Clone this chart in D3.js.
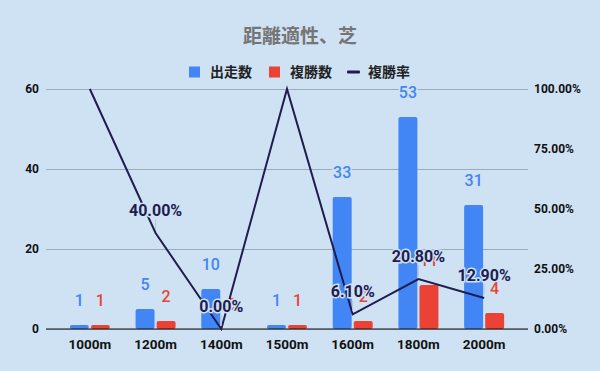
<!DOCTYPE html>
<html>
<head>
<meta charset="utf-8">
<script src="https://cdn.jsdelivr.net/npm/d3@7"></script>
<style>
  body { margin: 0; background: #cfe2f3; }
  text { font-family: Roboto, "Noto Sans CJK JP", sans-serif; }
</style>
</head>
<body>
<div id="chart"></div>
<script>
// chart data
var categories = ['1000m', '1200m', '1400m', '1500m', '1600m', '1800m', '2000m'];
var runs = [1, 5, 10, 1, 33, 53, 31];          // 出走数
var places = [1, 2, 0, 1, 2, 11, 4];          // 複勝数
var placeRate = [1.0, 0.40, 0.0, 1.0, 0.061, 0.208, 0.129];  // 複勝率
var leftTicks = [0, 20, 40, 60];
var rightTicks = [0, 0.25, 0.5, 0.75, 1];
var seriesNames = ['出走数', '複勝数', '複勝率'];

function drawChart(){

    var width = 600, height = 371;
    var left = 46, right = 528, top = 89, bottom = 329;
    var bg = '#cfe2f3', blue = '#4285f4', red = '#ea4335', navy = '#211c4f';

    var svg = d3.select('#chart')
        .append('svg')
        .attr('width', width)
        .attr('height', height);

    svg.append('rect')
        .attr('width', width)
        .attr('height', height)
        .attr('fill', bg);

    //scales
    var x = d3.scaleBand()
        .domain(categories)
        .range([57, 517]);

    var xSub = d3.scaleBand()
        .domain(['runs', 'places'])
        .range([-20, 20])
        .paddingInner(0.1);

    var y = d3.scaleLinear().domain([0, 60]).range([bottom, top]);
    var yR = d3.scaleLinear().domain([0, 1]).range([bottom, top]);

    //title
    svg.append('text')
        .attr('x', 300)
        .attr('y', 43)
        .attr('text-anchor', 'middle')
        .attr('font-size', 19)
        .attr('font-weight', 'bold')
        .attr('fill', '#757575')
        .text('距離適性、芝');

    //legend
    var legend = svg.append('g').attr('transform', 'translate(0,72)');
    var legendX = [189, 269, 347];
    var legendColors = [blue, red, navy];
    seriesNames.forEach(function(name, i){
        if (i < 2) {
            legend.append('rect')
                .attr('x', legendX[i]).attr('y', -5.5)
                .attr('width', 11).attr('height', 11)
                .attr('fill', legendColors[i]);
        } else {
            legend.append('rect')
                .attr('x', legendX[i]).attr('y', -1.5)
                .attr('width', 13).attr('height', 3)
                .attr('rx', 1)
                .attr('fill', legendColors[i]);
        }
        legend.append('text')
            .attr('x', legendX[i] + 21)
            .attr('y', 5)
            .attr('font-size', 14)
            .attr('font-weight', 'bold')
            .attr('fill', '#222')
            .text(name);
    });

    //left axis with gridlines
    var gLeft = svg.append('g')
        .attr('transform', 'translate(' + left + ',0)')
        .call(d3.axisLeft(y).tickValues(leftTicks).tickSize(-(right - left)).tickPadding(7));
    gLeft.select('.domain').remove();
    gLeft.selectAll('.tick line').attr('stroke', '#9babba');
    gLeft.selectAll('.tick text')
        .attr('font-size', 12).attr('font-weight', 'bold').attr('fill', '#111');

    //right axis
    var gRight = svg.append('g')
        .attr('transform', 'translate(' + right + ',0)')
        .call(d3.axisRight(yR).tickValues(rightTicks).tickSize(0).tickPadding(6)
            .tickFormat(d3.format('.2%')));
    gRight.select('.domain').remove();
    gRight.selectAll('.tick text')
        .attr('font-size', 12).attr('font-weight', 'bold').attr('fill', '#111');

    //bottom axis
    var gBottom = svg.append('g')
        .attr('transform', 'translate(0,' + bottom + ')')
        .call(d3.axisBottom(x).tickSize(0).tickPadding(10));
    gBottom.select('.domain').remove();
    gBottom.selectAll('.tick text')
        .attr('font-size', 13.5).attr('font-weight', 'bold').attr('fill', '#111');

    //bars
    var groups = svg.selectAll('.group')
        .data(categories)
        .enter()
        .append('g')
        .attr('class', 'group')
        .attr('transform', function(d){ return 'translate(' + (x(d) + x.bandwidth() / 2) + ',0)'; });

    var barData = function(d, i){
        return [{key: 'runs', v: runs[i], c: blue}, {key: 'places', v: places[i], c: red}];
    };

    groups.selectAll('rect')
        .data(barData)
        .enter()
        .append('rect')
        .attr('x', function(d){ return xSub(d.key); })
        .attr('y', function(d){ return y(d.v); })
        .attr('width', xSub.bandwidth())
        .attr('height', function(d){ return bottom - y(d.v); })
        .attr('rx', 2)
        .attr('fill', function(d){ return d.c; });

    //baseline
    svg.append('line')
        .attr('x1', left).attr('x2', right)
        .attr('y1', bottom).attr('y2', bottom)
        .attr('stroke', '#111').attr('stroke-width', 1.2);

    //bar value labels
    groups.selectAll('.val')
        .data(barData)
        .enter()
        .append('text')
        .attr('class', 'val')
        .attr('x', function(d){ return xSub(d.key) + xSub.bandwidth() / 2; })
        .attr('y', function(d){ return y(d.v) - 19; })
        .attr('text-anchor', 'middle')
        .attr('font-size', 16)
        .attr('font-weight', 500)
        .attr('fill', function(d){ return d.c; })
        .attr('stroke', bg)
        .attr('stroke-width', 3)
        .attr('paint-order', 'stroke')
        .text(function(d){ return d.v; });

    //rate line
    var line = d3.line()
        .x(function(d, i){ return x(categories[i]) + x.bandwidth() / 2; })
        .y(function(d){ return yR(d); });

    svg.append('path')
        .datum(placeRate)
        .attr('d', line)
        .attr('fill', 'none')
        .attr('stroke', navy)
        .attr('stroke-width', 2)
        .attr('stroke-linejoin', 'miter');

    //rate labels (those that fit inside the plot)
    var rateLabels = placeRate.map(function(v, i){ return {v: v, c: categories[i]}; })
        .filter(function(d){ return yR(d.v) - 22 > top; });

    svg.selectAll('.lead')
        .data(rateLabels)
        .enter()
        .append('line')
        .attr('class', 'lead')
        .attr('x1', function(d){ return x(d.c) + x.bandwidth() / 2; })
        .attr('x2', function(d){ return x(d.c) + x.bandwidth() / 2; })
        .attr('y1', function(d){ return yR(d.v) - 14; })
        .attr('y2', function(d){ return yR(d.v) - 3; })
        .attr('stroke', '#b8c4cf')
        .attr('stroke-width', 1);

    svg.selectAll('.rate')
        .data(rateLabels)
        .enter()
        .append('text')
        .attr('class', 'rate')
        .attr('x', function(d){ return x(d.c) + x.bandwidth() / 2; })
        .attr('y', function(d){ return yR(d.v) - 17; })
        .attr('text-anchor', 'middle')
        .attr('font-size', 16)
        .attr('font-weight', 'bold')
        .attr('fill', navy)
        .attr('stroke', bg)
        .attr('stroke-width', 3)
        .attr('paint-order', 'stroke')
        .text(function(d){ return d3.format('.2%')(d.v); });
};

window.onload = drawChart();
</script>
</body>
</html>
